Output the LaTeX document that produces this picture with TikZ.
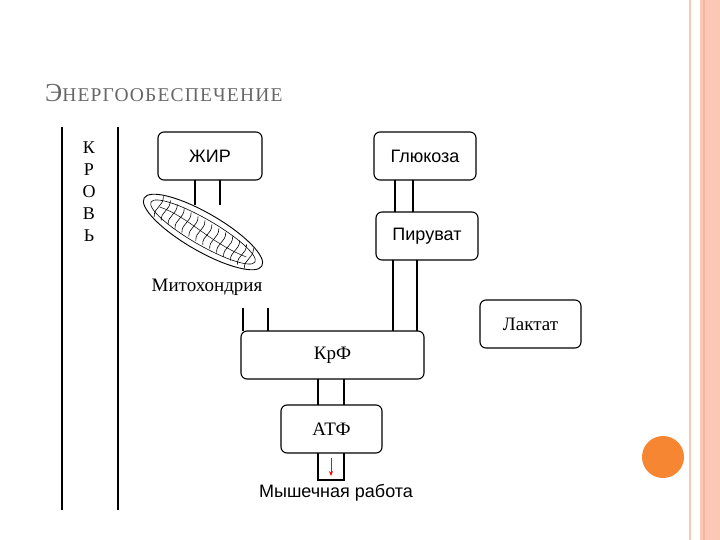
\documentclass[tikz,border=0pt]{standalone}
\usepackage{fontspec}
\setmainfont{Liberation Serif}
\newfontfamily\sansf{Liberation Sans}
\usetikzlibrary{arrows.meta}
\definecolor{bandc}{RGB}{250,200,180}
\definecolor{bandd}{RGB}{245,180,160}
\definecolor{dotc}{RGB}{246,134,50}
\begin{document}
\begin{tikzpicture}[x=1pt,y=-1pt,
 box/.style={draw,line width=1.1pt,rounded corners=6pt,inner sep=0},
 ln/.style={line width=1.1pt},
 lab/.style={font=\fontsize{19}{21}\selectfont},
 slab/.style={font=\sansf\fontsize{18}{20}\selectfont}]
\useasboundingbox (0,0) rectangle (720,540);
% right border
\fill[bandc] (700,0) rectangle (720,540);
\draw[bandd,line width=2pt] (704,0) -- (704,540);
\draw[bandc,line width=1.5pt] (690,0) -- (690,540);
\fill[dotc] (663,457) circle (21);
% title
\node[anchor=base west,text=gray!80!black,inner sep=0] (title) at (45,102)
 {\fontsize{26}{28}\selectfont Э\fontsize{19.5}{22}\selectfont\addfontfeature{LetterSpace=6}НЕРГООБЕСПЕЧЕНИЕ};
% blood
\draw[ln] (62,127) -- (62,510);
\draw[ln] (118,127) -- (118,510);
\node[font=\fontsize{18}{20}\selectfont,align=center,inner sep=0] (krov) at (89,192) {К\\[2pt]Р\\[2pt]О\\[2pt]В\\[2pt]Ь};
% boxes
\node[box,minimum width=104pt,minimum height=48pt,slab] (zhir) at (210,156) {ЖИР};
\node[box,minimum width=102pt,minimum height=48pt,slab] (glu) at (425,156) {Глюкоза};
\node[box,minimum width=102pt,minimum height=48pt,slab] (pir) at (427,236) {Пируват};
\node[box,minimum width=101pt,minimum height=48pt,lab] (lak) at (530.5,324) {Лактат};
\node[box,minimum width=183pt,minimum height=48pt,lab] (krf) at (332.5,355) {КрФ};
\node[box,minimum width=101pt,minimum height=48pt,lab] (atf) at (331.5,429) {АТФ};
% connectors
\draw[ln] (195,180) -- (195,205);
\draw[ln] (220,180) -- (220,205);
\draw[ln] (395,180) -- (395,212);
\draw[ln] (413,180) -- (413,212);
\draw[ln] (393,260) -- (393,331);
\draw[ln] (417,260) -- (417,331);
\draw[ln] (243,308) -- (243,331);
\draw[ln] (268,308) -- (268,331);
\draw[ln] (318,379) -- (318,405);
\draw[ln] (344,379) -- (344,405);
% small output box
\coordinate (o1) at (318,480); \coordinate (o2) at (344,480);
\draw[ln] (318,453) -- (o1) -- (o2) -- (344,453);
\coordinate (a1) at (331,458); \coordinate (a2) at (331,476);
\draw[red,line width=0.8pt,-{Stealth[length=5pt,width=4pt]}] (a1) -- (a2);
\node[slab] (work) at (336,493) {Мышечная работа};
% mitochondrion
\begin{scope}[shift={(203,232)},rotate=-30]
\draw[line width=0.9pt] (0,0) ellipse (68 and 19);
\draw[line width=0.6pt] (0,0) ellipse (60 and 13);
\foreach \i in {-52,-44,...,52}{
 \draw[line width=0.6pt] (\i,-11) .. controls (\i+5,-2) and (\i-3,3) .. (\i+2,11);
}
\draw[line width=0.5pt] (-50,0) .. controls (-20,-6) and (10,6) .. (50,0);
\end{scope}
\node[lab] (mito) at (207,287) {Митохондрия};
\end{tikzpicture}
\end{document}
